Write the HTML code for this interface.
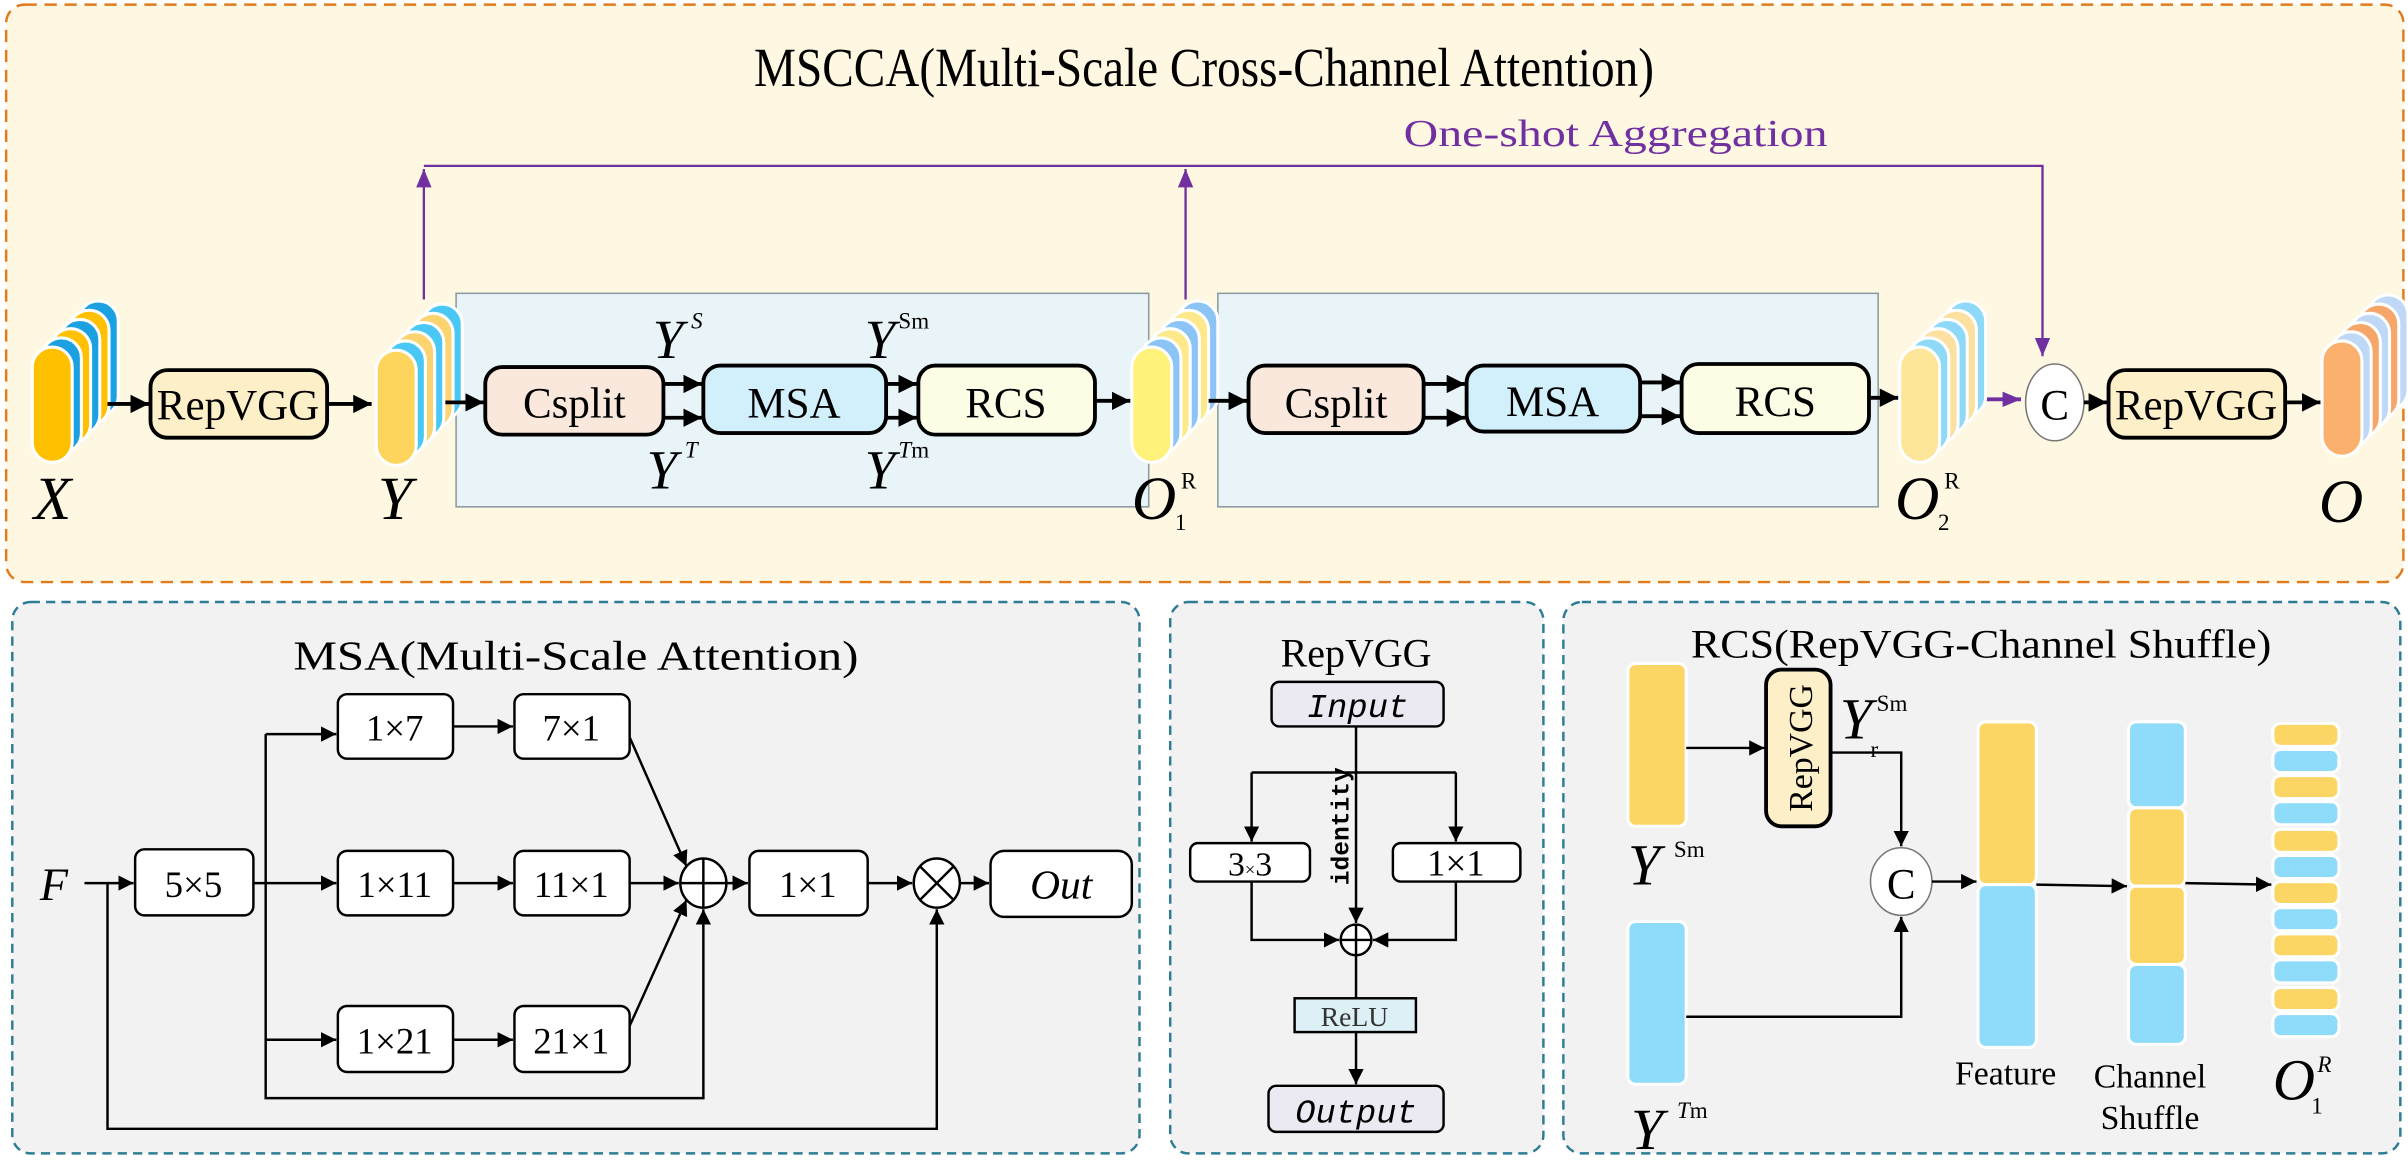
<!DOCTYPE html>
<html><head><meta charset="utf-8"><style>
html,body{margin:0;padding:0;background:#fff;}
svg{display:block;}
</style></head><body>
<svg width="2408" height="1162" viewBox="0 0 1568 756.6" preserveAspectRatio="none" xmlns="http://www.w3.org/2000/svg" font-family="'Liberation Serif', serif">
<defs>
<marker id="a" markerUnits="userSpaceOnUse" markerWidth="14" markerHeight="14" refX="12" refY="6" orient="auto"><path d="M0,0 L12,6 L0,12 z" fill="#000"/></marker>
<marker id="s" markerUnits="userSpaceOnUse" markerWidth="12" markerHeight="12" refX="10" refY="5" orient="auto"><path d="M0,0 L10,5 L0,10 z" fill="#000"/></marker>
<marker id="p" markerUnits="userSpaceOnUse" markerWidth="14" markerHeight="20" refX="12" refY="5" orient="auto"><path d="M0,0 L12,5 L0,10 z" fill="#7030a0"/></marker>
</defs>

<rect x="4" y="3" width="1561" height="376" rx="12" fill="#fef7e2" stroke="#e07b1e" stroke-width="1.6" stroke-dasharray="8,5"/>
<text x="784" y="56" font-size="36" text-anchor="middle" textLength="586" lengthAdjust="spacingAndGlyphs">MSCCA(Multi-Scale Cross-Channel Attention)</text>
<text x="1052" y="95" font-size="25" text-anchor="middle" fill="#7030a0" textLength="276" lengthAdjust="spacingAndGlyphs">One-shot Aggregation</text>
<g stroke="#7030a0" stroke-width="1.5" fill="none">
<path d="M276,108 H1330 V232" marker-end="url(#p)"/>
<path d="M276,195 V110" marker-end="url(#p)"/>
<path d="M772,195 V110" marker-end="url(#p)"/>
<path d="M1290,260 H1316" stroke-width="2.5" marker-end="url(#p)"/>
</g>

<rect x="297" y="191" width="451" height="139" fill="#e9f4f8" stroke="#8a9aa0" stroke-width="1"/>
<rect x="793" y="191" width="430" height="139" fill="#e9f4f8" stroke="#8a9aa0" stroke-width="1"/>

<g stroke="#fff" stroke-width="2">
 <g transform="translate(21,226)">
  <rect x="30" y="-30" width="26" height="75" rx="13" fill="#1ba1e2"/>
  <rect x="24" y="-24" width="26" height="75" rx="13" fill="#ffc000"/>
  <rect x="18" y="-18" width="26" height="75" rx="13" fill="#1ba1e2"/>
  <rect x="12" y="-12" width="26" height="75" rx="13" fill="#ffc000"/>
  <rect x="6" y="-6" width="26" height="75" rx="13" fill="#1ba1e2"/>
  <rect x="0" y="0" width="26" height="75" rx="13" fill="#ffc000"/>
 </g>
 <g transform="translate(245,228)">
  <rect x="30" y="-30" width="26" height="75" rx="13" fill="#4ac8f5"/>
  <rect x="24" y="-24" width="26" height="75" rx="13" fill="#fbd36f"/>
  <rect x="18" y="-18" width="26" height="75" rx="13" fill="#4ac8f5"/>
  <rect x="12" y="-12" width="26" height="75" rx="13" fill="#fbd36f"/>
  <rect x="6" y="-6" width="26" height="75" rx="13" fill="#4ac8f5"/>
  <rect x="0" y="0" width="26" height="75" rx="13" fill="#fdd45c"/>
 </g>
 <g transform="translate(737,226)">
  <rect x="30" y="-30" width="26" height="75" rx="13" fill="#8cc4f5"/>
  <rect x="24" y="-24" width="26" height="75" rx="13" fill="#fde98a"/>
  <rect x="18" y="-18" width="26" height="75" rx="13" fill="#8cc4f5"/>
  <rect x="12" y="-12" width="26" height="75" rx="13" fill="#fde98a"/>
  <rect x="6" y="-6" width="26" height="75" rx="13" fill="#8cc4f5"/>
  <rect x="0" y="0" width="26" height="75" rx="13" fill="#fef27a"/>
 </g>
 <g transform="translate(1237,226)">
  <rect x="30" y="-30" width="26" height="75" rx="13" fill="#8ed8f8"/>
  <rect x="24" y="-24" width="26" height="75" rx="13" fill="#fbe0a0"/>
  <rect x="18" y="-18" width="26" height="75" rx="13" fill="#8ed8f8"/>
  <rect x="12" y="-12" width="26" height="75" rx="13" fill="#fbe0a0"/>
  <rect x="6" y="-6" width="26" height="75" rx="13" fill="#8ed8f8"/>
  <rect x="0" y="0" width="26" height="75" rx="13" fill="#fde59a"/>
 </g>
 <g transform="translate(1512,222)">
  <rect x="30" y="-30" width="26" height="75" rx="13" fill="#bfd8f5"/>
  <rect x="24" y="-24" width="26" height="75" rx="13" fill="#f7a66a"/>
  <rect x="18" y="-18" width="26" height="75" rx="13" fill="#bfd8f5"/>
  <rect x="12" y="-12" width="26" height="75" rx="13" fill="#f7a66a"/>
  <rect x="6" y="-6" width="26" height="75" rx="13" fill="#bfd8f5"/>
  <rect x="0" y="0" width="26" height="75" rx="13" fill="#fbb06e"/>
 </g>
</g>

<g stroke="#000" stroke-width="2.5">
<rect x="98" y="241" width="115" height="44" rx="11" fill="#fdefc8"/>
<rect x="316" y="239" width="116" height="44" rx="11" fill="#fbe8dc"/>
<rect x="458" y="238" width="119" height="44" rx="11" fill="#d2effc"/>
<rect x="598" y="238" width="115" height="45" rx="11" fill="#fdfde5"/>
<rect x="813" y="238" width="114" height="44" rx="11" fill="#fbe8dc"/>
<rect x="955" y="238" width="113" height="43" rx="11" fill="#d2effc"/>
<rect x="1095" y="237" width="122" height="45" rx="11" fill="#fdfde5"/>
<rect x="1373" y="241" width="115" height="44" rx="11" fill="#fdefc8"/>
</g>
<ellipse cx="1338" cy="262" rx="19" ry="25" fill="#fff" stroke="#777" stroke-width="1"/>
<text x="1338" y="273" font-size="28" text-anchor="middle">C</text>

<g font-size="28" text-anchor="middle">
<text x="155" y="273">RepVGG</text>
<text x="374" y="272">Csplit</text>
<text x="517" y="272">MSA</text>
<text x="655" y="272">RCS</text>
<text x="870" y="272">Csplit</text>
<text x="1011" y="271">MSA</text>
<text x="1156" y="271">RCS</text>
<text x="1430" y="273">RepVGG</text>
</g>

<g stroke="#000" stroke-width="2.5" fill="none">
<path d="M70,263 H97" marker-end="url(#a)"/>
<path d="M213,263 H242" marker-end="url(#a)"/>
<path d="M290,262 H315" marker-end="url(#a)"/>
<path d="M432,250 H457" marker-end="url(#a)"/>
<path d="M432,272 H457" marker-end="url(#a)"/>
<path d="M577,250 H597" marker-end="url(#a)"/>
<path d="M577,272 H597" marker-end="url(#a)"/>
<path d="M713,261 H736" marker-end="url(#a)"/>
<path d="M787,261 H812" marker-end="url(#a)"/>
<path d="M927,250 H954" marker-end="url(#a)"/>
<path d="M927,272 H954" marker-end="url(#a)"/>
<path d="M1068,249 H1094" marker-end="url(#a)"/>
<path d="M1068,271 H1094" marker-end="url(#a)"/>
<path d="M1217,259 H1236" marker-end="url(#a)"/>
<path d="M1357,262 H1372" marker-end="url(#a)"/>
<path d="M1488,262 H1511" marker-end="url(#a)"/>
</g>

<g font-style="italic" font-size="40">
<text x="22" y="338">X</text>
<text x="246" y="338">Y</text>
<text x="737" y="338">O</text>
<text x="1234" y="338">O</text>
<text x="1510" y="340">O</text>
<text x="425" y="233" font-size="36">Y</text>
<text x="563" y="233" font-size="36">Y</text>
<text x="421" y="318" font-size="36">Y</text>
<text x="563" y="318" font-size="36">Y</text>
</g>
<g font-size="15">
<text x="450" y="214" font-style="italic">S</text>
<text x="585" y="214">Sm</text>
<text x="446" y="298" font-style="italic">T</text>
<text x="585" y="298"><tspan font-style="italic">T</tspan>m</text>
<text x="769" y="318">R</text>
<text x="765" y="345">1</text>
<text x="1266" y="318">R</text>
<text x="1262" y="345">2</text>
</g>

<g fill="#f2f2f2" stroke="#2e7d95" stroke-width="1.6" stroke-dasharray="6,4">
<rect x="8" y="392" width="734" height="359" rx="12"/>
<rect x="762" y="392" width="243" height="359" rx="12"/>
<rect x="1018" y="392" width="545" height="359" rx="12"/>
</g>

<!-- MSA -->
<text x="375" y="436" font-size="27" text-anchor="middle" textLength="368" lengthAdjust="spacingAndGlyphs">MSA(Multi-Scale Attention)</text>
<g stroke="#000" stroke-width="1.6" fill="#fff">
<rect x="88" y="553" width="77" height="43" rx="6"/>
<rect x="220" y="452" width="75" height="42" rx="6"/>
<rect x="335" y="452" width="75" height="42" rx="6"/>
<rect x="220" y="554" width="75" height="42" rx="6"/>
<rect x="335" y="554" width="75" height="42" rx="6"/>
<rect x="220" y="655" width="75" height="43" rx="6"/>
<rect x="335" y="655" width="75" height="43" rx="6"/>
<rect x="488" y="554" width="77" height="42" rx="6"/>
<rect x="645" y="554" width="92" height="43" rx="9"/>
<ellipse cx="458" cy="575" rx="15" ry="16"/>
<ellipse cx="610" cy="575" rx="15" ry="16"/>
</g>
<g stroke="#000" stroke-width="1.6" fill="none">
<path d="M443,575 H473 M458,559 V591"/>
<path d="M599,564 L621,586 M621,564 L599,586"/>
<path d="M55,575 H87" marker-end="url(#s)"/>
<path d="M165,575 H219" marker-end="url(#s)"/>
<path d="M173,478 V715 H458 V592" marker-end="url(#s)"/>
<path d="M173,478 H219" marker-end="url(#s)"/>
<path d="M173,677 H219" marker-end="url(#s)"/>
<path d="M295,473 H334" marker-end="url(#s)"/>
<path d="M295,575 H334" marker-end="url(#s)"/>
<path d="M295,677 H334" marker-end="url(#s)"/>
<path d="M410,575 H442" marker-end="url(#s)"/>
<path d="M410,480 L447,564" marker-end="url(#s)"/>
<path d="M410,668 L447,586" marker-end="url(#s)"/>
<path d="M473,575 H487" marker-end="url(#s)"/>
<path d="M565,575 H594" marker-end="url(#s)"/>
<path d="M625,575 H644" marker-end="url(#s)"/>
<path d="M70,575 V735 H610 V592" marker-end="url(#s)"/>
</g>
<g font-size="24" text-anchor="middle">
<text x="126" y="584">5×5</text>
<text x="257" y="482">1×7</text>
<text x="372" y="482">7×1</text>
<text x="257" y="584">1×11</text>
<text x="372" y="584">11×1</text>
<text x="257" y="686">1×21</text>
<text x="372" y="686">21×1</text>
<text x="691" y="585" font-style="italic" font-size="27">Out</text>
<text x="526" y="584">1×1</text>
</g>
<text x="26" y="586" font-size="30" font-style="italic">F</text>

<!-- RepVGG panel -->
<text x="883" y="434" font-size="26" text-anchor="middle">RepVGG</text>
<g stroke="#000" stroke-width="1.6">
<rect x="828" y="444" width="112" height="29" rx="5" fill="#ebe9f1"/>
<rect x="775" y="549" width="78" height="25" rx="5" fill="#fff"/>
<rect x="907" y="549" width="83" height="25" rx="5" fill="#fff"/>
<rect x="843" y="650" width="79" height="22" fill="#dcf0f5"/>
<rect x="826" y="707" width="114" height="30" rx="5" fill="#ebe9f1"/>
<circle cx="883" cy="612" r="10" fill="#fff"/>
</g>
<g stroke="#000" stroke-width="1.6" fill="none">
<path d="M873,612 H893 M883,602 V622"/>
<path d="M883,473 V601" marker-end="url(#s)"/>
<path d="M815,503 H948"/>
<path d="M815,503 V548" marker-end="url(#s)"/>
<path d="M948,503 V548" marker-end="url(#s)"/>
<path d="M815,574 V612 H872" marker-end="url(#s)"/>
<path d="M948,574 V612 H894" marker-end="url(#s)"/>
<path d="M883,622 V650"/>
<path d="M883,672 V706" marker-end="url(#s)"/>
</g>
<g text-anchor="middle">
<text x="884" y="467" font-size="22" font-style="italic" font-family="'Liberation Mono', monospace">Input</text>
<text x="814" y="570" font-size="22">3<tspan font-size="12">×</tspan>3</text>
<text x="948" y="570" font-size="24">1×1</text>
<text x="882" y="668" font-size="18" fill="#333">ReLU</text>
<text x="883" y="731" font-size="22" font-style="italic" font-family="'Liberation Mono', monospace">Output</text>
<text transform="translate(878,538) rotate(-90)" font-size="16" font-weight="bold" font-family="'Liberation Mono', monospace">identity</text>
</g>

<!-- RCS panel -->
<text x="1290" y="428" font-size="26" text-anchor="middle" textLength="378" lengthAdjust="spacingAndGlyphs">RCS(RepVGG-Channel Shuffle)</text>
<g stroke="#fff" stroke-width="2">
<rect x="1060" y="432" width="38" height="106" rx="5" fill="#fcd664"/>
<rect x="1060" y="600" width="38" height="106" rx="5" fill="#8fdcfa"/>
<rect x="1288" y="470" width="38" height="106" rx="5" fill="#fcd664"/>
<rect x="1288" y="576" width="38" height="106" rx="5" fill="#8fdcfa"/>
<rect x="1386" y="470" width="37" height="56" rx="5" fill="#8fdcfa"/>
<rect x="1386" y="526" width="37" height="51" rx="5" fill="#fcd664"/>
<rect x="1386" y="577" width="37" height="51" rx="5" fill="#fcd664"/>
<rect x="1386" y="628" width="37" height="52" rx="5" fill="#8fdcfa"/>
<rect x="1480" y="471" width="43" height="15" rx="5" fill="#fcd664"/>
<rect x="1480" y="488" width="43" height="15" rx="5" fill="#8fdcfa"/>
<rect x="1480" y="505" width="43" height="15" rx="5" fill="#fcd664"/>
<rect x="1480" y="522" width="43" height="15" rx="5" fill="#8fdcfa"/>
<rect x="1480" y="540" width="43" height="15" rx="5" fill="#fcd664"/>
<rect x="1480" y="557" width="43" height="15" rx="5" fill="#8fdcfa"/>
<rect x="1480" y="574" width="43" height="15" rx="5" fill="#fcd664"/>
<rect x="1480" y="591" width="43" height="15" rx="5" fill="#8fdcfa"/>
<rect x="1480" y="608" width="43" height="15" rx="5" fill="#fcd664"/>
<rect x="1480" y="625" width="43" height="15" rx="5" fill="#8fdcfa"/>
<rect x="1480" y="643" width="43" height="15" rx="5" fill="#fcd664"/>
<rect x="1480" y="660" width="43" height="15" rx="5" fill="#8fdcfa"/>
</g>
<rect x="1150" y="436" width="42" height="102" rx="10" fill="#fdefc8" stroke="#000" stroke-width="2.5"/>
<text transform="translate(1180,487) rotate(-90)" font-size="22" text-anchor="middle">RepVGG</text>
<ellipse cx="1238" cy="574" rx="20" ry="22" fill="#fff" stroke="#777" stroke-width="1"/>
<text x="1238" y="585" font-size="28" text-anchor="middle">C</text>
<g stroke="#000" stroke-width="1.6" fill="none">
<path d="M1098,487 H1149" marker-end="url(#s)"/>
<path d="M1192,490 H1238 V551" marker-end="url(#s)"/>
<path d="M1098,662 H1238 V597" marker-end="url(#s)"/>
<path d="M1258,574 H1287" marker-end="url(#s)"/>
<path d="M1326,576 L1385,577" marker-end="url(#s)"/>
<path d="M1423,575 L1479,576" marker-end="url(#s)"/>
</g>
<g font-style="italic" font-size="38">
<text x="1060" y="576">Y</text>
<text x="1062" y="748">Y</text>
<text x="1198" y="481">Y</text>
<text x="1480" y="716">O</text>
</g>
<g font-size="15">
<text x="1090" y="558">Sm</text>
<text x="1092" y="728"><tspan font-style="italic">T</tspan>m</text>
<text x="1222" y="463">Sm</text>
<text x="1218" y="493">r</text>
<text x="1509" y="698" font-style="italic">R</text>
<text x="1505" y="725">1</text>
</g>
<g font-size="22" text-anchor="middle">
<text x="1306" y="706">Feature</text>
<text x="1400" y="708">Channel</text>
<text x="1400" y="735">Shuffle</text>
</g>
</svg>
</body></html>
